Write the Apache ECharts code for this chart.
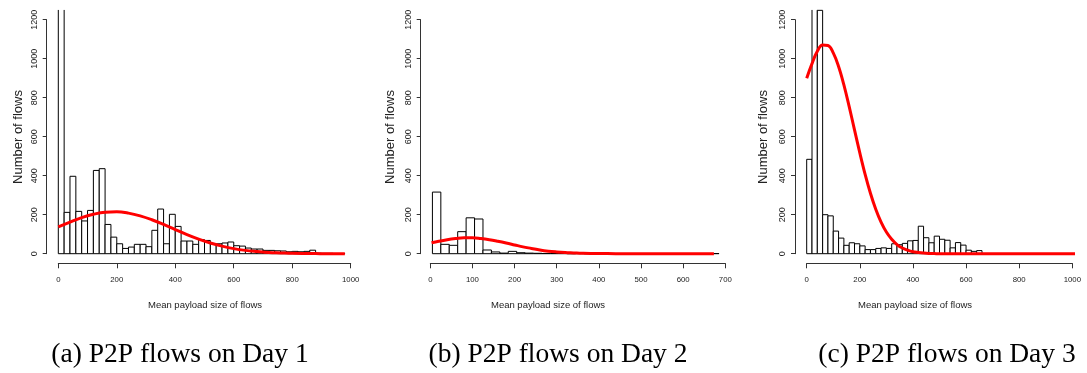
<!DOCTYPE html>
<html><head><meta charset="utf-8">
<script src="https://cdn.jsdelivr.net/npm/echarts@6/dist/echarts.min.js"></script>
<style>html,body{margin:0;padding:0;background:#fff}#c{width:1087px;height:373px}</style>
</head><body><div id="c"></div>
<script>
// ---------------- data ----------------
const binWidth = 20;
const day1BinStart = 0;
const day1Counts = [2000,212,397,217,168,222,427,436,150,85,51,27,34,48,48,36,120,229,51,202,140,65,65,48,72,68,51,51,55,60,41,39,29,24,24,17,17,15,14,10,12,10,12,18,3,2,2,1,1];
const day2BinStart = 5;
const day2Counts = [316,48,43,113,184,178,19,9,3,12,5,3,2,1,1,1,0,1,0,0,1,0,0,0,0,0,1,0,0,0,0,0,0,1];
const day3BinStart = 0;
const day3Counts = [484,2000,1248,200,194,116,80,43,56,51,40,21,21,27,30,27,51,46,53,66,68,141,82,56,90,74,69,30,57,44,18,12,16];

const day1CurveX = [0,40,80,120,160,200,240,280,320,360,400,440,480,520,560,600,640,680,720,760,800,840,880,920,960,980];
const day1CurveY = [137,162,185,202,213,215,208,194,174,150,124,98,75,55,39,26,17,11,6,4,2,1,0.5,0,0,0];
const day2CurveX = [3,20,40,60,80,100,120,140,160,180,200,220,240,260,280,300,320,340,360,380,400,440,500,600,673];
const day2CurveY = [56,64,72,78,82,82,78,72,64,55,45,35,27,19,13,9,6,4,2,1,1,0,0,0,0];
const day3CurveX = [0,20,40,60,80,100,120,140,160,180,200,220,240,260,280,300,320,340,360,380,400,420,440,460,480,500,600,700,800,900,1000,1060];
const day3CurveY = [900,975,1038,1070,1068,1030,960,866,754,635,517,407,310,228,162,111,74,47,29,18,10,6,3,1,0.5,0,0,0,0,0,0,0];

const yTicks = [0,200,400,600,800,1000,1200];
const xTicks1 = [0,200,400,600,800,1000];
const xTicks2 = [0,100,200,300,400,500,600,700];
const xTicks3 = [0,200,400,600,800,1000];

const captions = ['(a) P2P flows on Day 1','(b) P2P flows on Day 2','(c) P2P flows on Day 3'];
const xTitle = 'Mean payload size of flows';
const yTitle = 'Number of flows';

// ---------------- layout ----------------
const VIS_CAP = 1250; // visible top of plot region
const panels = [
  {left:58.3, width:292.4, yOff:11.6, counts:day1Counts, start:day1BinStart, cx:day1CurveX, cy:day1CurveY, xt:xTicks1, xTitleX:205, yTitleX:18, capX:180},
  {left:430.3, width:295.0, yOff:9.6, counts:day2Counts, start:day2BinStart, cx:day2CurveX, cy:day2CurveY, xt:xTicks2, xTitleX:548, yTitleX:390, capX:558},
  {left:806.7, width:265.6, yOff:11.7, counts:day3Counts, start:day3BinStart, cx:day3CurveX, cy:day3CurveY, xt:xTicks3, xTitleX:915, yTitleX:763, capX:947}
];
const GTOP = 19.7, GH = 234;

function renderBar(params, api){
  const x0 = api.value(0), x1 = api.value(1), v = api.value(2);
  const pb = api.coord([x0, 0]);
  const pt = api.coord([x1, Math.min(v, VIS_CAP)]);
  const X0 = pb[0], X1 = pt[0], B = pb[1], T = pt[1];
  if (v > VIS_CAP) {
    return {type:'group', children:[
      {type:'rect', shape:{x:X0, y:T, width:X1-X0, height:B-T}, style:{fill:'#fff'}},
      {type:'polyline', shape:{points:[[X0,T],[X0,B],[X1,B],[X1,T]]}, style:{stroke:'#000', fill:null, lineWidth:1}}
    ]};
  }
  return {type:'rect', shape:{x:X0, y:T, width:X1-X0, height:B-T}, style:{fill:'#fff', stroke:'#000', lineWidth:1}};
}

const grid=[], xAxis=[], yAxis=[], series=[], graphic=[];
const axisCol = '#333', txtCol = '#222', sans = 'Liberation Sans, Arial, Helvetica, sans-serif';
const plain = v => String(v);
panels.forEach((p,i)=>{
  grid.push({left:p.left, top:GTOP, width:p.width, height:GH, containLabel:false});
  xAxis.push({type:'value', gridIndex:i, min:p.xt[0], max:p.xt[p.xt.length-1], interval:p.xt[1]-p.xt[0], offset:9.6,
    axisLine:{show:true, onZero:false, lineStyle:{color:axisCol, width:1}},
    axisTick:{show:true, inside:false, length:5, lineStyle:{color:axisCol}},
    axisLabel:{fontSize:7.8, color:txtCol, margin:13, fontFamily:sans, showMinLabel:true, showMaxLabel:true, formatter:plain},
    splitLine:{show:false}});
  yAxis.push({type:'value', gridIndex:i, min:yTicks[0], max:yTicks[yTicks.length-1], interval:yTicks[1]-yTicks[0], offset:p.yOff,
    axisLine:{show:true, onZero:false, lineStyle:{color:axisCol, width:1}},
    axisTick:{show:true, inside:false, length:4, lineStyle:{color:axisCol}},
    axisLabel:{fontSize:9, color:txtCol, margin:8, rotate:90, fontFamily:sans, formatter:plain},
    splitLine:{show:false}});
  const bars = p.counts.map((c,k)=>[p.start+k*binWidth, p.start+(k+1)*binWidth, c]);
  series.push({type:'custom', xAxisIndex:i, yAxisIndex:i, data:bars, renderItem:renderBar, encode:{x:[0,1], y:2}, clip:false, z:2, silent:true});
  series.push({type:'line', xAxisIndex:i, yAxisIndex:i, data:p.cx.map((x,k)=>[x,p.cy[k]]), showSymbol:false, smooth:0.4, clip:false, z:5,
    lineStyle:{color:'#ff0000', width:3}, silent:true});
  graphic.push({type:'text', x:p.xTitleX, y:305, style:{text:xTitle, font:'9.5px '+sans, fill:txtCol, textAlign:'center', textVerticalAlign:'middle'}});
  graphic.push({type:'text', x:p.yTitleX, y:137, rotation:Math.PI/2, style:{text:yTitle, font:'13px '+sans, fill:txtCol, textAlign:'center', textVerticalAlign:'middle'}});
  graphic.push({type:'text', x:p.capX, y:355, style:{text:captions[i], font:'27.5px "Liberation Serif", "Times New Roman", serif', fill:'#000', textAlign:'center', textVerticalAlign:'middle'}});
});

const chart = echarts.init(document.getElementById('c'), null, {renderer:'canvas'});
chart.setOption({animation:false, backgroundColor:'#fff', grid, xAxis, yAxis, series, graphic});
</script></body></html>
